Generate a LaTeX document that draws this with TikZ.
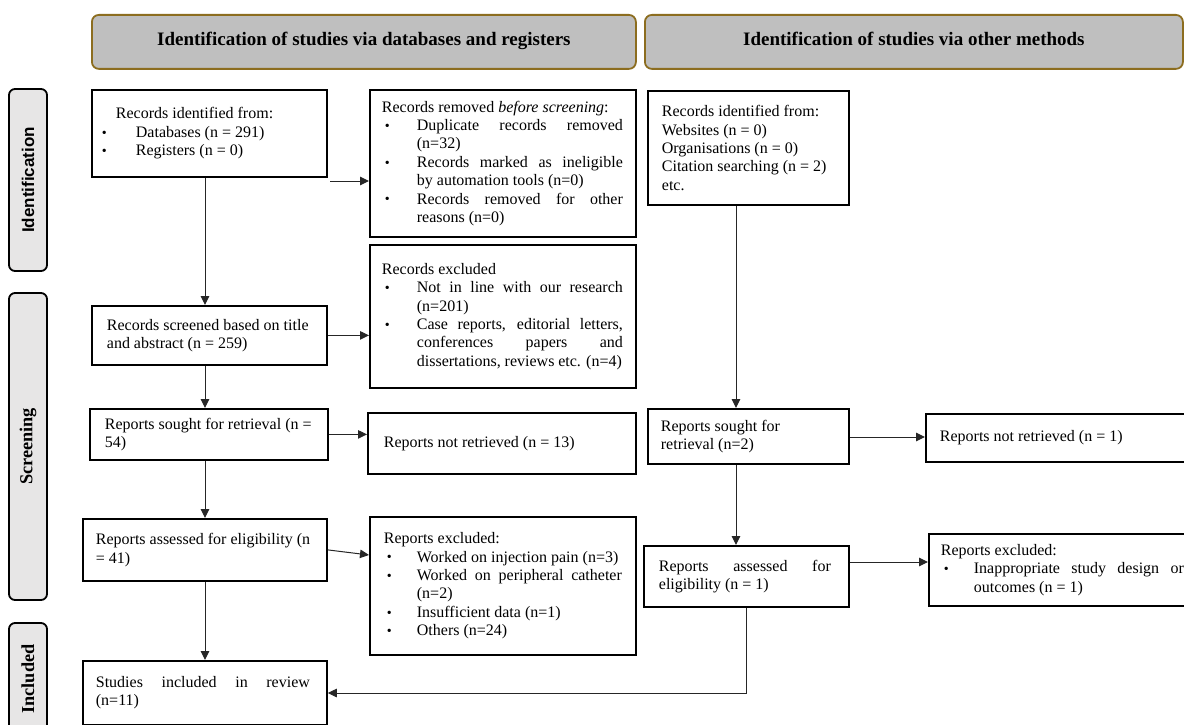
\documentclass[tikz,border=0pt]{standalone}
\usepackage{fontspec}
\setmainfont{Liberation Serif}
\newfontfamily\lsans{Liberation Sans}
\usetikzlibrary{arrows.meta}
\definecolor{hdrfill}{HTML}{BFBFBF}
\definecolor{hdrline}{HTML}{8C6D1F}
\definecolor{sidefill}{HTML}{E7E6E6}
\definecolor{conn}{HTML}{262626}
\newcommand{\bdot}{\raisebox{0.3pt}{\fontsize{14}{14}\selectfont •}}
\newcommand{\bi}[2]{\makebox[#1][l]{\bdot}#2}
\newcommand{\js}[2]{\makebox[#1][s]{#2}}
\newcommand{\bxt}[4]{\hbox to #1{\hspace*{#2}\parbox{#3}{\raggedright #4}\hss}}
\tikzset{
  box/.style={draw=black, line width=1.8pt, inner sep=0pt, anchor=north west,
    font=\fontsize{16}{18.4}\selectfont, align=left},
  head/.style={draw=hdrline, line width=1.8pt, fill=hdrfill, rounded corners=7pt,
    minimum height=54pt, inner sep=0pt, anchor=north west,
    font=\fontsize{19}{19}\selectfont\bfseries},
  side/.style={draw=black, line width=1.8pt, fill=sidefill, rounded corners=6pt,
    minimum height=38pt, inner sep=0pt, rotate=90},
  arr/.style={draw=conn, line width=1pt, -{Triangle[length=9pt,width=8.5pt]}}
}
\begin{document}
\begin{tikzpicture}[x=1pt,y=-1pt]
\useasboundingbox (0,0) rectangle (1184,725);
\clip (0,0) rectangle (1184,725);
% headers
\node[head, minimum width=544] (h1) at (91,14) {\raisebox{-3.5pt}[0pt][0pt]{Identification of studies via databases and registers}};
\node[head, minimum width=538] (h2) at (644,14) {\raisebox{-3.5pt}[0pt][0pt]{Identification of studies via other methods}};
% side labels
\node[side, minimum width=182, font=\lsans\fontsize{17}{17}\selectfont\bfseries] (sid) at (28,180) {Identification};
\node[side, minimum width=307, font=\fontsize{18.3}{18.3}\selectfont\bfseries] (sscr) at (28,446.5) {Screening};
\node[side, minimum width=112, font=\fontsize{18.3}{18.3}\selectfont\bfseries] (sinc) at (28,679) {Included};
% left column
\node[box, minimum height=87] (A) at (91,89) {\bxt{235pt}{10pt}{215pt}{%
\hspace*{14pt}Records identified from:\\
\bi{34pt}{Databases (n = 291)}\\
\bi{34pt}{Registers (n = 0)}}};
\node[box, minimum height=147] (B) at (369,89) {\bxt{266pt}{12pt}{240pt}{%
Records removed \textit{before screening}:\\
\hspace*{3pt}\bi{32pt}{\js{206pt}{Duplicate records removed}}\\
\hspace*{35pt}(n=32)\\
\hspace*{3pt}\bi{32pt}{\js{206pt}{Records marked as ineligible}}\\
\hspace*{35pt}by automation tools (n=0)\\
\hspace*{3pt}\bi{32pt}{\js{206pt}{Records removed for other}}\\
\hspace*{35pt}reasons (n=0)}};
\node[box, minimum height=143] (C) at (369,244) {\bxt{266pt}{12pt}{240pt}{%
Records excluded\\
\hspace*{3pt}\bi{32pt}{\js{206pt}{Not in line with our research}}\\
\hspace*{35pt}(n=201)\\
\hspace*{3pt}\bi{32pt}{\js{206pt}{Case reports, editorial letters,}}\\
\hspace*{35pt}\js{206pt}{conferences papers and}\\
\hspace*{35pt}dissertations, reviews etc. (n=4)}};
\node[box, minimum height=59] (D) at (91,305) {\bxt{235pt}{15pt}{210pt}{%
Records screened based on title\\ and abstract (n = 259)}};
\node[box, minimum height=51] (E) at (89,408) {\bxt{238pt}{15pt}{212pt}{%
Reports sought for retrieval (n =\\ 54)}};
\node[box, minimum height=61] (F) at (367,412) {\bxt{268pt}{16pt}{240pt}{%
Reports not retrieved (n = 13)}};
\node[box, minimum height=62] (G) at (82,518) {\bxt{244pt}{13pt}{220pt}{%
Reports assessed for eligibility (n\\ = 41)}};
\node[box, minimum height=138] (H) at (369,516) {\bxt{266pt}{14pt}{238pt}{%
Reports excluded:\\
\hspace*{3pt}\bi{30pt}{Worked on injection pain (n=3)}\\
\hspace*{3pt}\bi{30pt}{\js{205pt}{Worked on peripheral catheter}}\\
\hspace*{33pt}(n=2)\\
\hspace*{3pt}\bi{30pt}{Insufficient data (n=1)}\\
\hspace*{3pt}\bi{30pt}{Others (n=24)}}};
\node[box, minimum height=64] (I) at (82,660) {\bxt{244pt}{13pt}{220pt}{%
\js{214pt}{Studies included in review}\\ (n=11)}};
% right column
\node[box, minimum height=114] (J) at (647,90) {\bxt{201pt}{14pt}{180pt}{%
Records identified from:\\ Websites (n = 0)\\ Organisations (n = 0)\\ Citation searching (n = 2)\\ etc.}};
\node[box, minimum height=55] (K) at (647,408) {\bxt{201pt}{13pt}{180pt}{%
Reports sought for\\ retrieval (n=2)}};
\node[box, minimum height=48] (L) at (925,413) {\bxt{270pt}{14pt}{240pt}{%
Reports not retrieved (n = 1)}};
\node[box, minimum height=61] (M) at (643,545) {\bxt{205pt}{15pt}{175pt}{%
\js{172pt}{Reports assessed for}\\ eligibility (n = 1)}};
\node[box, minimum height=72] (N) at (928,533) {\bxt{267pt}{12pt}{250pt}{%
Reports excluded:\\
\hspace*{3pt}\bi{30pt}{\js{210pt}{Inappropriate study design or}}\\
\hspace*{33pt}outcomes (n = 1)}};
% helper coordinates
\coordinate (lx) at (205,0);
\coordinate (b0) at (330,181);
\coordinate (gh) at (0,555);
\coordinate (kl) at (0,437);
\coordinate (mn) at (0,562);
\coordinate (xr) at (736,0);
\coordinate (mi) at (0,693);
% connectors
\draw[arr] (lx |- A.south) -- (lx |- D.north);
\draw[arr] (b0) -- (b0 -| B.west);
\draw[arr] (D.east) -- (D.east -| C.west);
\draw[arr] (lx |- D.south) -- (lx |- E.north);
\draw[arr] (E.east) -- (E.east -| F.west);
\draw[arr] (lx |- E.south) -- (lx |- G.north);
\draw[arr] (G.east) -- (H.west |- gh);
\draw[arr] (lx |- G.south) -- (lx |- I.north);
\draw[arr] (xr |- J.south) -- (xr |- K.north);
\draw[arr] (K.east |- kl) -- (L.west |- kl);
\draw[arr] (xr |- K.south) -- (xr |- M.north);
\draw[arr] (M.east |- mn) -- (N.west |- mn);
\draw[arr] (M.south) -- (M.south |- mi) -- (I.east |- mi);
\end{tikzpicture}
\end{document}
